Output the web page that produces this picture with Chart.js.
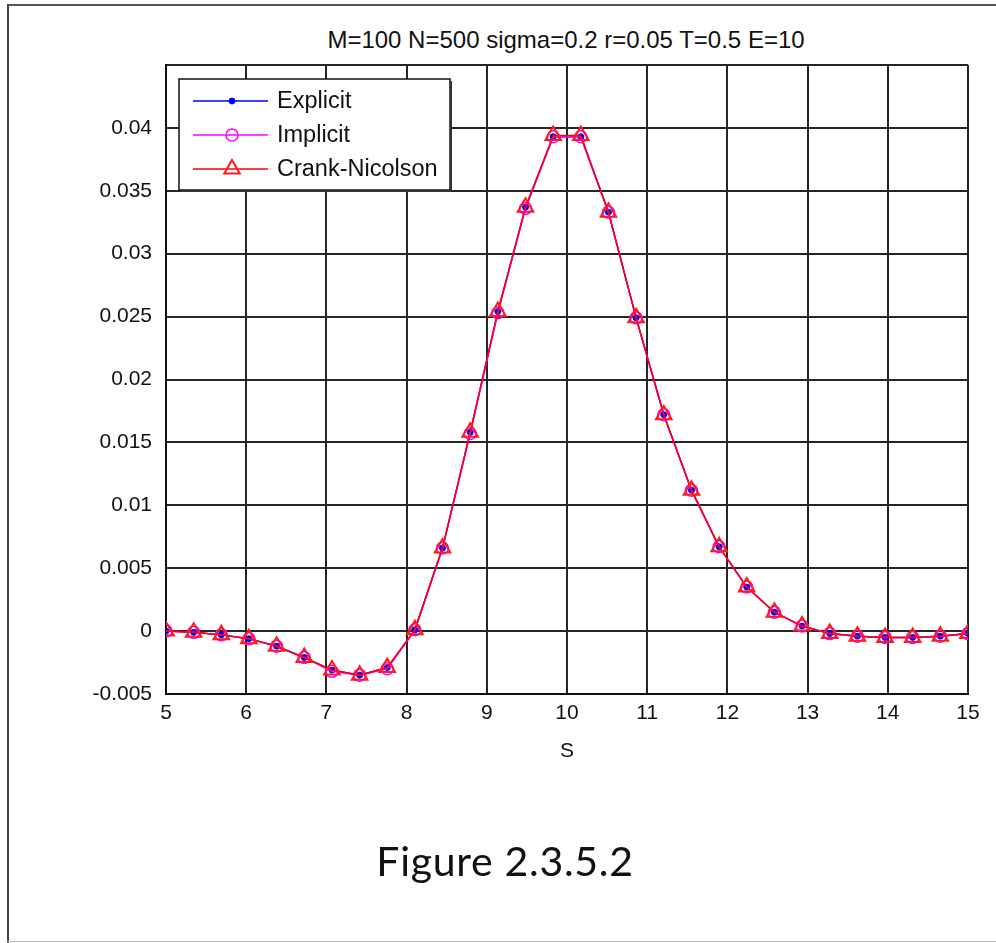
<!DOCTYPE html>
<html lang="en">
<head>
    <meta charset="UTF-8">
    <meta name="viewport" content="width=device-width, initial-scale=1.0">
    <title>Figure 2.3.5.2</title>
    <script src="https://cdn.jsdelivr.net/npm/chart.js@4"></script>
    <style>
        * {
            margin: 0;
            padding: 0;
            box-sizing: border-box;
        }

        body {
            width: 996px;
            height: 943px;
            position: relative;
            overflow: hidden;
            background: #fff;
            font-family: "Liberation Sans", Arial, sans-serif;
        }

        #chart {
            position: absolute;
            left: 0;
            top: 0;
        }

        .frame-top {
            position: absolute;
            left: 7px;
            top: 4px;
            right: 0;
            height: 2px;
            background: #555;
        }

        .frame-left {
            position: absolute;
            left: 7px;
            top: 4px;
            bottom: 0;
            width: 2px;
            background: #444;
        }

        .frame-bottom {
            position: absolute;
            left: 7px;
            right: 0;
            bottom: 1px;
            height: 1px;
            background: #bbb;
        }

        .title {
            position: absolute;
            top: 27px;
            left: 566px;
            transform: translateX(-50%);
            font-size: 24px;
            line-height: 26px;
            white-space: nowrap;
            color: #111;
        }

        .caption {
            position: absolute;
            top: 836px;
            left: 505px;
            transform: translateX(-50%);
            font-family: Lato, "Open Sans", sans-serif;
            font-size: 41px;
            letter-spacing: 0.7px;
            line-height: 1.2;
            white-space: nowrap;
            color: #111;
        }
    </style>
</head>
<body>
    <div class="frame-top"></div>
    <div class="frame-left"></div>
    <div class="frame-bottom"></div>
    <div class="title">M=100 N=500 sigma=0.2 r=0.05 T=0.5 E=10</div>
    <canvas id="chart" width="996" height="943"></canvas>
    <div class="caption">Figure 2.3.5.2</div>

    <script>
        // grid of S values (30 nodes between 5 and 15)
        const sValues = [5, 5.345, 5.690, 6.034, 6.379, 6.724, 7.069, 7.414, 7.759, 8.103,
                         8.448, 8.793, 9.138, 9.483, 9.828, 10.172, 10.517, 10.862, 11.207, 11.552,
                         11.897, 12.241, 12.586, 12.931, 13.276, 13.621, 13.966, 14.310, 14.655, 15];

        const explicitVals = [0.0000, -0.0001, -0.0003, -0.0006, -0.0012, -0.0021, -0.0031, -0.0035, -0.0029, 0.0001,
                              0.0066, 0.0158, 0.0254, 0.0337, 0.0393, 0.0393, 0.0333, 0.0249, 0.0172, 0.0112,
                              0.0067, 0.0035, 0.0015, 0.0004, -0.0002, -0.0004, -0.0005, -0.0005, -0.0004, -0.0002];

        const implicitVals = [0.0000, -0.0001, -0.0003, -0.0006, -0.0012, -0.0021, -0.0032, -0.0035, -0.0030, 0.0001,
                              0.0066, 0.0157, 0.0253, 0.0336, 0.0393, 0.0393, 0.0333, 0.0249, 0.0172, 0.0112,
                              0.0067, 0.0035, 0.0015, 0.0004, -0.0002, -0.0004, -0.0005, -0.0005, -0.0004, -0.0002];

        const crankVals = [0.0000, -0.0001, -0.0003, -0.0006, -0.0012, -0.0021, -0.0031, -0.0035, -0.0029, 0.0001,
                           0.0066, 0.0158, 0.0254, 0.0337, 0.0394, 0.0394, 0.0333, 0.0249, 0.0172, 0.0112,
                           0.0067, 0.0035, 0.0015, 0.0004, -0.0002, -0.0004, -0.0005, -0.0005, -0.0004, -0.0002];

        const seriesNames = ["Explicit", "Implicit", "Crank-Nicolson"];

        const FONT = '"Liberation Sans", Arial, sans-serif';

        function toPoints(vals) {
            return vals.map((v, i) => ({ x: sValues[i], y: v }));
        }

        // MATLAB-style boxed legend with line + marker samples
        const boxLegend = {
            id: 'boxLegend',
            afterDraw(chart) {
                const { ctx, chartArea } = chart;
                const x = chartArea.left + 13, y = chartArea.top + 14, w = 271, h = 111;
                ctx.save();
                ctx.fillStyle = '#fff';
                ctx.fillRect(x, y, w, h);
                ctx.strokeStyle = '#111';
                ctx.lineWidth = 1.5;
                ctx.strokeRect(x, y, w, h);
                // slight shadow on right and bottom
                ctx.strokeStyle = '#333';
                ctx.lineWidth = 2;
                ctx.beginPath();
                ctx.moveTo(x + w + 1, y + 2);
                ctx.lineTo(x + w + 1, y + h + 1);
                ctx.lineTo(x + 2, y + h + 1);
                ctx.stroke();

                chart.data.datasets.forEach((ds, i) => {
                    const cy = y + 22 + i * 34;
                    ctx.strokeStyle = ds.borderColor;
                    ctx.lineWidth = ds.borderWidth;
                    ctx.beginPath();
                    ctx.moveTo(x + 14, cy);
                    ctx.lineTo(x + 89, cy);
                    ctx.stroke();

                    ctx.strokeStyle = ds.pointBorderColor;
                    ctx.fillStyle = ds.pointBackgroundColor;
                    ctx.lineWidth = ds.pointBorderWidth;
                    Chart.helpers.drawPoint(ctx, {
                        pointStyle: ds.pointStyle,
                        radius: ds.pointRadius,
                        borderWidth: ds.pointBorderWidth,
                        rotation: 0
                    }, x + 53, cy);

                    ctx.fillStyle = '#111';
                    ctx.font = '23.5px ' + FONT;
                    ctx.textBaseline = 'middle';
                    ctx.textAlign = 'left';
                    ctx.fillText(ds.label, x + 98, cy + 1);
                });
                ctx.restore();
            }
        };

        const axisFont = { size: 21, family: FONT };

        new Chart(document.getElementById('chart'), {
            type: 'line',
            data: {
                datasets: [
                    {
                        label: seriesNames[0],
                        data: toPoints(explicitVals),
                        order: 3,
                        borderColor: '#0000ff',
                        borderWidth: 1.5,
                        pointStyle: 'circle',
                        pointRadius: 3,
                        pointBorderWidth: 1,
                        pointBorderColor: '#0000ff',
                        pointBackgroundColor: '#0000ff'
                    },
                    {
                        label: seriesNames[1],
                        data: toPoints(implicitVals),
                        order: 2,
                        borderColor: '#ff00ff',
                        borderWidth: 1.5,
                        pointStyle: 'circle',
                        pointRadius: 6,
                        pointBorderWidth: 1.5,
                        pointBorderColor: '#ff00ff',
                        pointBackgroundColor: 'rgba(0,0,0,0)'
                    },
                    {
                        label: seriesNames[2],
                        data: toPoints(crankVals),
                        order: 1,
                        borderColor: '#ff0000',
                        borderWidth: 1.5,
                        pointStyle: 'triangle',
                        pointRadius: 9,
                        pointBorderWidth: 2,
                        pointBorderColor: '#ff1a1a',
                        pointBackgroundColor: 'rgba(0,0,0,0)'
                    }
                ]
            },
            options: {
                responsive: false,
                animation: false,
                events: [],
                layout: { padding: { left: 0, top: 65, right: 28, bottom: 169 } },
                plugins: {
                    legend: { display: false },
                    tooltip: { enabled: false },
                    title: { display: false }
                },
                scales: {
                    x: {
                        type: 'linear',
                        min: 5,
                        max: 15,
                        ticks: {
                            stepSize: 1,
                            color: '#111',
                            font: axisFont,
                            padding: 7,
                            maxRotation: 0,
                            autoSkip: false
                        },
                        grid: { color: '#262626', lineWidth: 2, drawTicks: false },
                        border: { color: '#111', width: 2 },
                        title: {
                            display: true,
                            text: 'S',
                            color: '#111',
                            font: axisFont,
                            padding: { top: 0, bottom: 10 }
                        },
                        afterFit(scale) { scale.height = 80; }
                    },
                    y: {
                        min: -0.005,
                        max: 0.045,
                        ticks: {
                            stepSize: 0.005,
                            color: '#111',
                            font: axisFont,
                            padding: 14,
                            callback(v) {
                                const r = parseFloat(v.toFixed(3));
                                return r === 0.045 ? '' : String(r);
                            }
                        },
                        grid: { color: '#262626', lineWidth: 2, drawTicks: false },
                        border: { color: '#111', width: 2 },
                        afterFit(scale) { scale.width = 166; }
                    }
                }
            },
            plugins: [boxLegend]
        });
    </script>
</body>
</html>
